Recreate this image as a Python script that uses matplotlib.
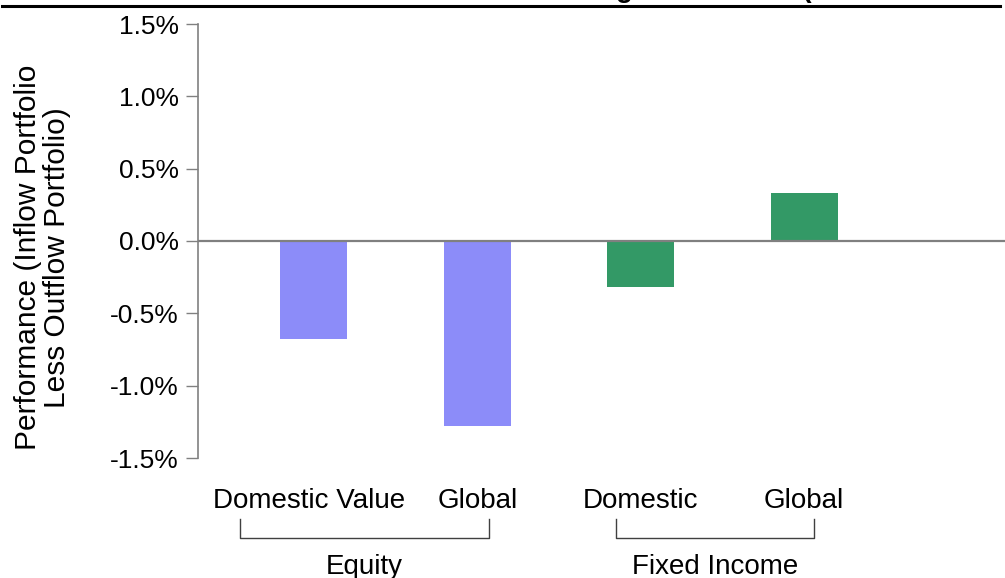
import numpy as np
import matplotlib.pyplot as plt
from matplotlib.lines import Line2D

plt.rcParams['font.family'] = ['Liberation Sans', 'DejaVu Sans']

categories = ["Domestic Value", "Global", "Domestic", "Global"]
values = [-0.68, -1.28, -0.32, 0.33]
colors = ["#8c8cf9", "#8c8cf9", "#339966", "#339966"]
groups = ["Equity", "Fixed Income"]
group_spans = [(-0.45, 1.07), (1.85, 3.06)]
yticks = [-1.5, -1.0, -0.5, 0.0, 0.5, 1.0, 1.5]
title = "Fund Performance Following Cash Flows (Inflow Portfolio Less Outflow Portfolio)"

W, H = 1005, 578
fig = plt.figure(figsize=(W / 100, H / 100), dpi=100)
ax = fig.add_axes([198 / W, 1 - 458 / H, 1 - 198 / W, (458 - 24) / H])

x = np.arange(len(values))
ax.bar(x, values, width=0.41, color=colors, zorder=2)
ax.axhline(0, color="#808080", lw=1.6, zorder=3)

ax.set_xlim(-0.71, 4.23)
ax.set_ylim(-1.5, 1.5)
ax.set_yticks(yticks)
ax.set_yticklabels([f"{v:.1f}%" for v in yticks], fontsize=19)
ax.tick_params(axis="y", length=9, width=1, color="#808080", pad=5)
ax.set_xticks([])
for s in ["top", "right", "bottom"]:
    ax.spines[s].set_visible(False)
ax.spines["left"].set_color("#808080")
ax.spines["left"].set_linewidth(1.2)

ax.set_ylabel("Performance (Inflow Portfolio\nLess Outflow Portfolio)", fontsize=21.5,
              linespacing=1.05)
ax.yaxis.set_label_coords(-0.157, 0.462)

# category labels and group brackets below the axis
trans = ax.get_xaxis_transform()
for xi, lab in zip(x, categories):
    ax.text(xi - (0.03 if lab == "Domestic Value" else 0), -0.1, lab, transform=trans,
            ha="center", va="center", fontsize=20)
for (a, b), g in zip(group_spans, groups):
    y_top, y_bot = -0.14, -0.185
    ax.add_line(Line2D([a, a, b, b], [y_top, y_bot, y_bot, y_top], transform=trans,
                       color="#404040", lw=1, clip_on=False))
    ax.text((a + b) / 2, -0.25, g, transform=trans, ha="center", va="center", fontsize=20)

# cut-off title and rule at the top
fig.add_artist(Line2D([2 / W, 1000 / W], [1 - 5.5 / H, 1 - 5.5 / H], color="black", lw=2.2))
fig.text(250 / W, 1 + 3 / H, title, ha="left", va="baseline", fontsize=20, fontweight="bold")

fig.savefig("out.png", dpi=100)
